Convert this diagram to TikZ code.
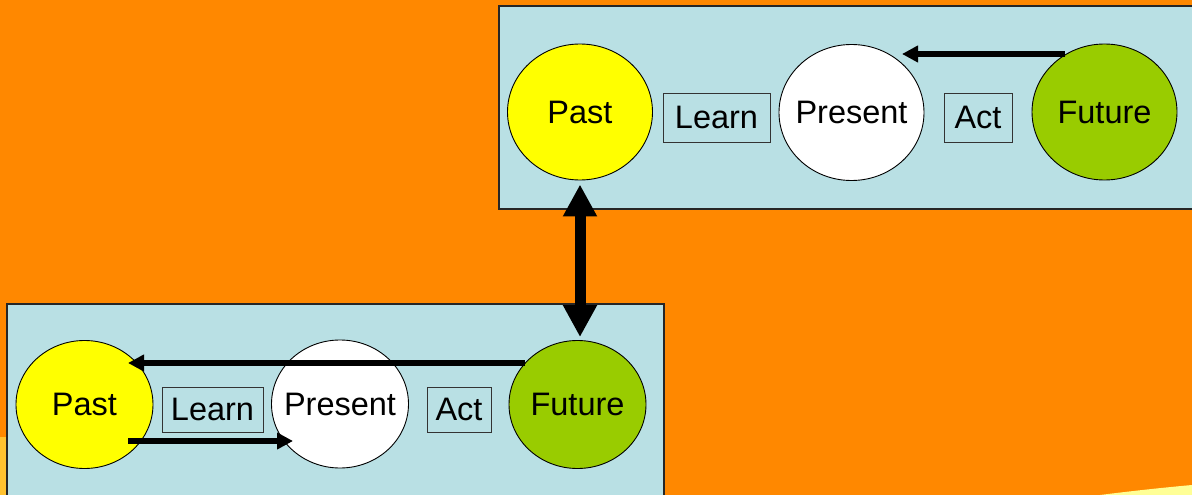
\documentclass[tikz,border=0pt]{standalone}
\usepackage{fontspec}
\setmainfont{Liberation Sans}
\usetikzlibrary{shapes.geometric,arrows.meta,calc}
\definecolor{bgorange}{RGB}{255,136,0}
\definecolor{panelblue}{RGB}{185,224,228}
\definecolor{pastyellow}{RGB}{255,255,0}
\definecolor{futgreen}{RGB}{153,204,0}
\definecolor{lightorange}{RGB}{255,194,48}
\definecolor{paleyellow}{RGB}{255,255,150}
\newcommand{\zw}[1]{\makebox[0pt]{#1}}
\tikzset{
  panel/.style={draw=black!85, line width=1.2pt, fill=panelblue},
  timeoval/.style={ellipse, draw=black, line width=0.9pt, inner sep=0pt,
    font=\fontsize{32.5}{38}\selectfont},
  bigoval/.style={timeoval, minimum width=145pt, minimum height=136pt},
  smalloval/.style={timeoval, minimum width=137pt, minimum height=128pt},
  labelbox/.style={draw=black!80, line width=0.9pt, inner sep=0pt,
    font=\fontsize{32.5}{38}\selectfont},
  flowarrow/.style={line width=5.5pt, -{Triangle[length=16pt,width=16pt]}},
  linkarrow/.style={line width=11pt, {Triangle[length=32pt,width=32pt]}-{Triangle[length=32pt,width=32pt]}}
}
\begin{document}
\begin{tikzpicture}[x=1pt,y=-1pt]
\clip (0,0) rectangle (1192,495);
% background
\fill[bgorange] (0,0) rectangle (1192,495);
\fill[lightorange] (0,437) rectangle (8,495);
\fill[paleyellow] (1100,495) .. controls (1140,490) and (1170,487) .. (1192,485) -- (1192,495) -- cycle;
% panels
\draw[panel] (499,6) rectangle (1210,209);
\draw[panel] (7,304) rectangle (664,510);
% top panel
\node[bigoval, fill=pastyellow] (past2) at (580,112) {\zw{Past}};
\node[labelbox, minimum width=107pt, minimum height=49pt] (learn2) at (716.5,117.5) {Learn};
\node[bigoval, fill=white] (pres2) at (851.5,112.5) {\zw{Present}};
\node[labelbox, minimum width=68pt, minimum height=49pt] (act2) at (978,117.5) {Act};
\node[bigoval, fill=futgreen] (fut2) at (1104.5,112) {\zw{Future}};
% bottom panel
\node[smalloval, fill=pastyellow] (past1) at (84.5,404.5) {\zw{Past}};
\node[labelbox, minimum width=101pt, minimum height=45pt] (learn1) at (212.5,409.5) {Learn};
\node[smalloval, fill=white] (pres1) at (340,404) {\zw{Present}};
\node[labelbox, minimum width=64pt, minimum height=45pt] (act1) at (459,409.5) {Act};
\node[smalloval, fill=futgreen] (fut1) at (577.5,404.5) {\zw{Future}};
% arrows
\draw[flowarrow] ($(fut2.center)+(-39.5,-58)$) -- ($(pres2.center)+(50.5,-58.5)$);
\draw[flowarrow] ($(fut1.center)+(-52.5,-41.5)$) -- ($(past1.center)+(43.5,-41.5)$);
\draw[flowarrow] ($(past1.center)+(43.5,36.5)$) -- ($(pres1.center)+(-47,37)$);
\draw[linkarrow, shorten <=4pt, shorten >=3pt] (past2.south) -- (past2.south |- fut1.north);
\end{tikzpicture}
\end{document}
